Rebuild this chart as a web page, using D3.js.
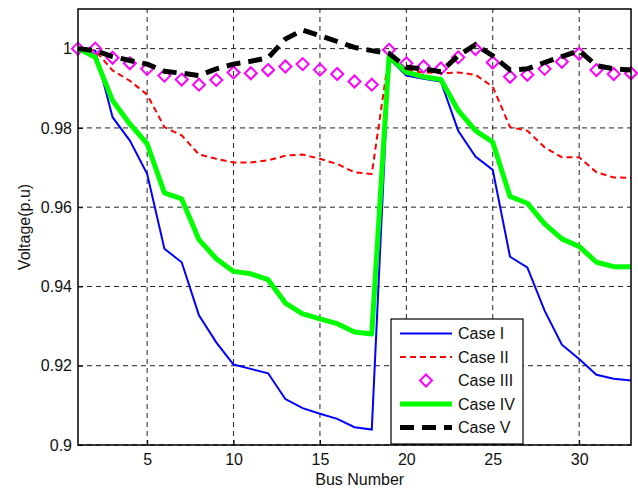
<!DOCTYPE html>
<html>
<head>
<meta charset="utf-8">
<script src="https://cdn.jsdelivr.net/npm/d3@7"></script>
<style>
  body { margin: 0; background: #fff; }
  svg { font-family: "Liberation Sans", Arial, sans-serif; }
</style>
</head>
<body>
<script>
// bus numbers 1..33
var buses = d3.range(1, 34)

var caseI = [1.0, 0.9995, 0.9827, 0.9768, 0.9684, 0.9495, 0.9461, 0.9327, 0.9259, 0.9203,
  0.9192, 0.9181, 0.9116, 0.9093, 0.9079, 0.9066, 0.9045, 0.9039,
  0.9975, 0.9932, 0.9924, 0.9917, 0.9793, 0.9728, 0.9694,
  0.9475, 0.9448, 0.9339, 0.9253, 0.9217, 0.9177, 0.9167, 0.9163]

var caseII = [1.0, 0.9995, 0.9945, 0.9919, 0.9884, 0.9802, 0.9781, 0.9733, 0.9722, 0.9713,
  0.9713, 0.9718, 0.9730, 0.9733, 0.9722, 0.9709, 0.9688, 0.9684,
  0.9985, 0.9945, 0.9940, 0.9938, 0.9940, 0.9934, 0.9904,
  0.9802, 0.9793, 0.9751, 0.9726, 0.9726, 0.9688, 0.9675, 0.9674]

var caseIII = [1.0, 1.0, 0.9977, 0.9963, 0.9949, 0.9932, 0.9922, 0.9909, 0.9921, 0.9940,
  0.9938, 0.9946, 0.9955, 0.9961, 0.9947, 0.9936, 0.9917, 0.9909,
  0.9997, 0.9963, 0.9955, 0.9950, 0.9978, 0.9999, 0.9965,
  0.9929, 0.9934, 0.9949, 0.9967, 0.9987, 0.9946, 0.9936, 0.9938]

var caseIV = [1.0, 0.9978, 0.9869, 0.9810, 0.9760, 0.9636, 0.9621, 0.9518, 0.9470, 0.9438,
  0.9432, 0.9417, 0.9358, 0.9331, 0.9318, 0.9306, 0.9285, 0.9280,
  0.9980, 0.9940, 0.9929, 0.9922, 0.9844, 0.9793, 0.9764,
  0.9627, 0.9610, 0.9558, 0.9520, 0.9501, 0.9461, 0.9450, 0.9450]

var caseV = [1.0, 0.9995, 0.9980, 0.9970, 0.9961, 0.9943, 0.9938, 0.9932, 0.9949, 0.9961,
  0.9968, 0.9977, 1.0024, 1.0047, 1.0033, 1.0018, 1.0003, 0.9995,
  0.9988, 0.9953, 0.9949, 0.9942, 0.9982, 1.0010, 0.9982,
  0.9946, 0.9949, 0.9965, 0.9980, 0.9995, 0.9957, 0.9949, 0.9946]

var xTicks = [5, 10, 15, 20, 25, 30]
var yTicks = [0.9, 0.92, 0.94, 0.96, 0.98, 1]
var legendLabels = ["Case I", "Case II", "Case III", "Case IV", "Case V"]

var W = 638, H = 490
var m = {left: 78, right: 7, top: 9, bottom: 45}
var FS = 16

var svg = d3.select("body").append("svg").attr("width", W).attr("height", H)

var x = d3.scaleLinear().domain([1, 33]).range([m.left, W - m.right])
var y = d3.scaleLinear().domain([0.9, 1.01]).range([H - m.bottom, m.top])

// grid
svg.append("g").selectAll("line").data(xTicks).join("line")
  .attr("x1", d => x(d)).attr("x2", d => x(d))
  .attr("y1", y.range()[0]).attr("y2", y.range()[1])
  .attr("stroke", "#222").attr("stroke-width", 1).attr("stroke-dasharray", "5,4")
svg.append("g").selectAll("line").data(yTicks).join("line")
  .attr("x1", x.range()[0]).attr("x2", x.range()[1])
  .attr("y1", d => y(d)).attr("y2", d => y(d))
  .attr("stroke", "#222").attr("stroke-width", 1).attr("stroke-dasharray", "5,4")

// axes
var xAxis = svg.append("g").attr("transform", "translate(0," + y.range()[0] + ")")
  .call(d3.axisBottom(x).tickValues(xTicks).tickSizeInner(-5).tickSizeOuter(0).tickPadding(9))
var yAxis = svg.append("g").attr("transform", "translate(" + x.range()[0] + ",0)")
  .call(d3.axisLeft(y).tickValues(yTicks).tickFormat(d3.format("")).tickSizeInner(-5).tickSizeOuter(0).tickPadding(6))
;[xAxis, yAxis].forEach(function(a) {
  a.select(".domain").remove()
  a.selectAll("text").attr("font-size", FS).attr("fill", "#111").style("font-family", "Liberation Sans, Arial, sans-serif")
  a.selectAll("line").attr("stroke", "#000")
})

var line = d3.line().x((d, i) => x(buses[i])).y(d => y(d))

svg.append("path").attr("d", line(caseI))
  .attr("fill", "none").attr("stroke", "#0000ff").attr("stroke-width", 2)
svg.append("path").attr("d", line(caseII))
  .attr("fill", "none").attr("stroke", "#ff0000").attr("stroke-width", 2).attr("stroke-dasharray", "6,4")

var diamond = "M0,-6L6,0L0,6L-6,0Z"
svg.append("g").selectAll("path").data(caseIII).join("path")
  .attr("transform", (d, i) => "translate(" + x(buses[i]) + "," + y(d) + ")")
  .attr("d", diamond).attr("fill", "none").attr("stroke", "#ff00ff").attr("stroke-width", 2)

svg.append("path").attr("d", line(caseIV))
  .attr("fill", "none").attr("stroke", "#00ff00").attr("stroke-width", 5).attr("stroke-linejoin", "round")
svg.append("path").attr("d", line(caseV))
  .attr("fill", "none").attr("stroke", "#000").attr("stroke-width", 5).attr("stroke-dasharray", "14,8")

// frame
svg.append("rect")
  .attr("x", x.range()[0]).attr("y", y.range()[1])
  .attr("width", x.range()[1] - x.range()[0]).attr("height", y.range()[0] - y.range()[1])
  .attr("fill", "none").attr("stroke", "#000").attr("stroke-width", 1.5)

// axis labels
svg.append("text").attr("x", x(17.3)).attr("y", 485).attr("text-anchor", "middle")
  .attr("font-size", FS).attr("fill", "#111").text("Bus Number")
svg.append("text").attr("transform", "translate(30," + ((y.range()[0] + y.range()[1]) / 2) + ") rotate(-90)")
  .attr("text-anchor", "middle").attr("font-size", FS).attr("fill", "#111").text("Voltage(p.u)")

// legend
var lg = svg.append("g").attr("transform", "translate(391,319)")
lg.append("rect").attr("width", 132).attr("height", 125)
  .attr("fill", "#fff").attr("stroke", "#000").attr("stroke-width", 1.2)
var styles = [
  {stroke: "#0000ff", w: 2, dash: null},
  {stroke: "#ff0000", w: 2, dash: "6,4"},
  {stroke: "#ff00ff", w: 2, marker: true},
  {stroke: "#00ff00", w: 5, dash: null},
  {stroke: "#000", w: 5, dash: "14,8"}
]
legendLabels.forEach(function(lbl, i) {
  var yy = 14.5 + i * 23.5
  var s = styles[i]
  if (s.marker) {
    lg.append("path").attr("transform", "translate(" + 35 + "," + yy + ")")
      .attr("d", diamond).attr("fill", "none").attr("stroke", s.stroke).attr("stroke-width", 2)
  } else {
    lg.append("line").attr("x1", 9).attr("x2", 61).attr("y1", yy).attr("y2", yy)
      .attr("stroke", s.stroke).attr("stroke-width", s.w).attr("stroke-dasharray", s.dash)
  }
  lg.append("text").attr("x", 67).attr("y", yy + 5.5).attr("font-size", FS).attr("fill", "#111").text(lbl)
})
</script>
</body>
</html>
